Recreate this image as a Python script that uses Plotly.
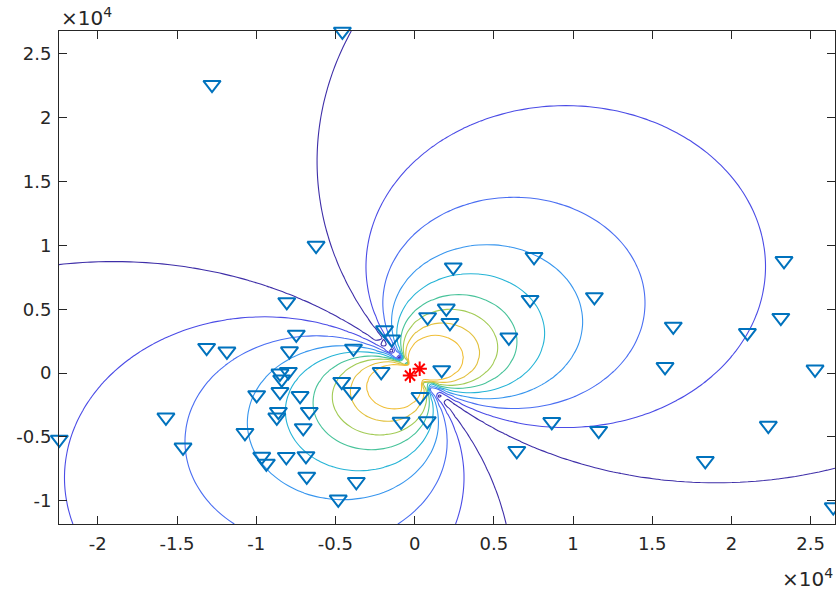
import numpy as np
import plotly.graph_objects as go

# ---- data ----
station_x = [-12790, -4560, -6220, 2440, 7540, 23320, -8070, 11350, 2000, 7290,
             -7470, -1900, -1450, 820, 2230, 16330, 21010, 23120, 5950, -13130,
             -11850, -7900, -3860, -2110, 1710, 15810, 25280, -4600, -3970, 340,
             -850, 800, 8660, 11620, 22330, 6450, 18350, 23650, 26430, -22430,
             -14620, -15700, -10710, -9970, -8500, -7970, -8390, -8500, -7230, -6650,
             -8600, -8700, -7030, -9650, -9360, -8100, -6860, -6810, -3680, -4820]
station_y = [22590, 26770, 9990, 8290, 9110, 8790, 5575, 5960, 5070, 5750,
             3020, 3370, 2650, 4390, 3940, 3650, 3150, 4340, 2800, 1990,
             1700, 1720, 1930, 100, 240, 490, 290, -680, -1470, -1860,
             -3800, -3750, -3820, -4520, -4120, -6090, -6880, -11990, -10500, -5200,
             -5820, -3470, -4680, -1720, -20, 100, -490, -1470, -1790, -3030,
             -3030, -3470, -4300, -6550, -7080, -6560, -6500, -8100, -8520, -9900]

event_x = [320, -290]
event_y = [330, -200]

# dipole-like field: contours are circles tangent at the source point
dipole_x0 = 25
dipole_y0 = 65
dipole_angle_deg = 41
# radius of each contour circle (outer -> inner) and its colour
contour_radii = [25200, 12610, 8275, 6030, 4660, 3665, 2970, 2320, 1735]
contour_colors = ["#3e2ea8", "#4b4ce6", "#4a6ef2", "#3896ee", "#26b4d6",
                  "#48c39a", "#a2cb55", "#e2c13e", "#f0bf38"]

x_ticks = [-20000, -15000, -10000, -5000, 0, 5000, 10000, 15000, 20000, 25000]
x_ticktext = ["-2", "-1.5", "-1", "-0.5", "0", "0.5", "1", "1.5", "2", "2.5"]
y_ticks = [-10000, -5000, 0, 5000, 10000, 15000, 20000, 25000]
y_ticktext = ["-1", "-0.5", "0", "0.5", "1", "1.5", "2", "2.5"]

x_range = [-22450, 26540]
y_range = [-11830, 26800]

# ---- field on a grid ----
gx = np.linspace(x_range[0], x_range[1], 99)
gy = np.linspace(y_range[0], y_range[1], 78)
X, Y = np.meshgrid(gx, gy)
a = np.deg2rad(dipole_angle_deg)
dx = X - dipole_x0
dy = Y - dipole_y0
u = dx * np.cos(a) + dy * np.sin(a)
r2 = dx ** 2 + dy ** 2
r2[r2 == 0] = np.nan
Z = 1e4 * np.abs(u) / r2

fig = go.Figure()
for R, col in zip(contour_radii, contour_colors):
    lev = 1e4 / (2.0 * R)
    fig.add_trace(go.Contour(
        x=gx, y=gy, z=Z, autocontour=False,
        contours=dict(start=lev, end=lev, size=1, coloring="lines"),
        colorscale=[[0, col], [1, col]], showscale=False,
        line=dict(width=1.1), hoverinfo="skip"))

fig.add_trace(go.Scatter(
    x=station_x, y=station_y, mode="markers",
    marker=dict(symbol="triangle-down-open", size=15, color="#0072bd",
                line=dict(width=2, color="#0072bd")),
    cliponaxis=False, showlegend=False))

fig.add_trace(go.Scatter(
    x=event_x, y=event_y, mode="markers",
    marker=dict(symbol="asterisk-open", size=12, color="#ff0000",
                line=dict(width=2, color="#ff0000")),
    showlegend=False))

axis_font = dict(family="DejaVu Sans, Liberation Sans, sans-serif", size=18, color="#262626")
exp_font = dict(family="DejaVu Sans, Liberation Sans, sans-serif", size=20, color="#262626")
common = dict(ticks="inside", ticklen=8, tickwidth=1, tickcolor="#262626",
              showline=True, linecolor="#262626", linewidth=1, mirror="allticks",
              showgrid=False, zeroline=False, tickfont=axis_font)

fig.update_layout(
    width=836, height=595,
    margin=dict(l=59, r=1, t=31, b=71),
    plot_bgcolor="white", paper_bgcolor="white",
    showlegend=False,
    xaxis=dict(range=x_range, tickvals=x_ticks, ticktext=x_ticktext,
               ticklabelstandoff=3, **common),
    yaxis=dict(range=y_range, tickvals=y_ticks, ticktext=y_ticktext,
               ticklabelstandoff=3, **common),
    annotations=[
        dict(text="×10<sup>4</sup>", xref="paper", yref="paper", x=0, y=1,
             xanchor="left", yanchor="bottom", xshift=0, yshift=-1,
             showarrow=False, font=exp_font),
        dict(text="×10<sup>4</sup>", xref="paper", yref="paper", x=1, y=0,
             xanchor="right", yanchor="top", xshift=0, yshift=-39,
             showarrow=False, font=exp_font),
    ],
)

fig.write_html("out.html")
